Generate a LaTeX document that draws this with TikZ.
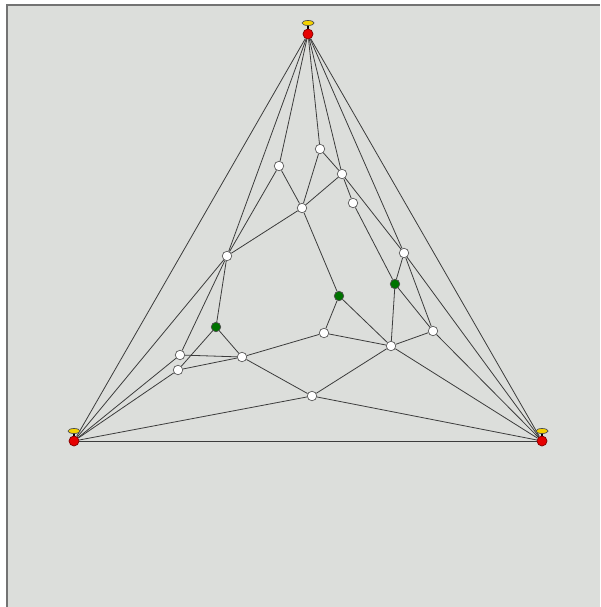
\documentclass[tikz,border=0pt]{standalone}
\usetikzlibrary{shapes.geometric}
\definecolor{bgc}{RGB}{220,222,219}
\definecolor{edgec}{RGB}{60,60,60}
\definecolor{redc}{RGB}{230,0,0}
\definecolor{greenc}{RGB}{0,115,0}
\definecolor{yelc}{RGB}{245,210,0}
\pgfdeclarelayer{bg}
\pgfsetlayers{bg,main}
\tikzset{
  wn/.style={circle,draw=black!65,fill=white,line width=0.7pt,minimum size=9.5pt,inner sep=0pt},
  gn/.style={circle,draw=black!70,fill=greenc,line width=0.7pt,minimum size=9.5pt,inner sep=0pt},
  rn/.style={circle,draw=red!50!black,fill=redc,line width=0.7pt,minimum size=10pt,inner sep=0pt},
  yn/.style={ellipse,draw=black!70,fill=yelc,line width=0.7pt,minimum width=12pt,minimum height=5pt,inner sep=0pt},
  stem/.style={draw=black,line width=1.6pt},
  edge/.style={draw=edgec,line width=0.8pt}
}
\begin{document}
\begin{tikzpicture}[x=1pt,y=-1pt]
\useasboundingbox (0,0) rectangle (600,607);
% nodes
\node[rn] (T) at (308,34) {};
\node[rn] (L) at (74,441) {};
\node[rn] (R) at (542,441) {};
\node[yn] (Ty) at (308,23) {};
\node[yn] (Ly) at (74,431) {};
\node[yn] (Ry) at (542,431) {};
\node[wn] (a) at (279,166) {};
\node[wn] (b) at (320,149) {};
\node[wn] (c) at (342,174) {};
\node[wn] (d) at (353,203) {};
\node[wn] (e) at (302,208) {};
\node[wn] (f) at (227,256) {};
\node[wn] (g) at (404,253) {};
\node[gn] (G1) at (339,296) {};
\node[gn] (G2) at (395,284) {};
\node[gn] (G3) at (216,327) {};
\node[wn] (h) at (324,333) {};
\node[wn] (i) at (433,331) {};
\node[wn] (j) at (391,346) {};
\node[wn] (k) at (180,355) {};
\node[wn] (l) at (242,357) {};
\node[wn] (m) at (178,370) {};
\node[wn] (n) at (312,396) {};
\begin{pgfonlayer}{bg}
\fill[white] (0,0) rectangle (600,607);
\fill[bgc] (7,5) rectangle (600,607);
\draw[black!55,line width=1.5pt] (7,607) -- (7,5) -- (600,5);
\foreach \u/\v in {T/L,T/R,L/R,T/f,T/a,T/b,T/c,T/g,L/f,L/k,L/m,L/n,R/g,R/i,R/j,R/n,
  a/f,a/e,b/e,b/c,c/d,c/e,c/g,e/G1,e/f,d/G2,g/G2,g/i,G2/j,G2/i,G1/h,G1/j,
  G3/f,G3/l,G3/m,f/k,h/l,h/j,i/j,j/n,l/n,k/l,m/l}
  \draw[edge] (\u) -- (\v);
\draw[stem] (Ty.center) -- (T.center);
\draw[stem] (Ly.center) -- (L.center);
\draw[stem] (Ry.center) -- (R.center);
\end{pgfonlayer}
\end{tikzpicture}
\end{document}
